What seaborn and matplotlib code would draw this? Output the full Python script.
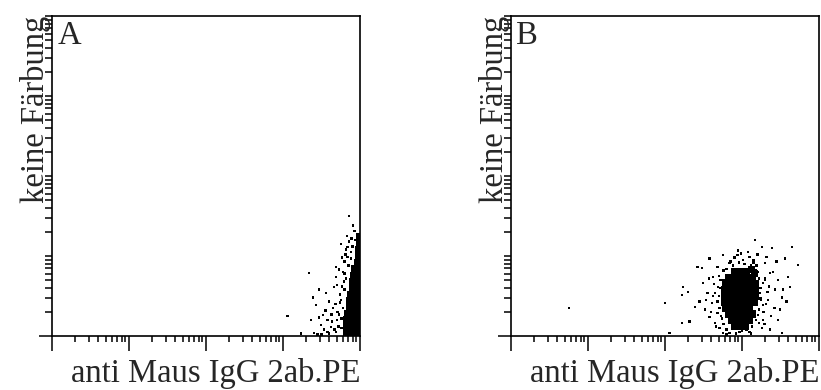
import numpy as np
import pandas as pd
import matplotlib
matplotlib.use("Agg")
import matplotlib.pyplot as plt
from matplotlib.ticker import FixedLocator, NullFormatter
import seaborn as sns

# ---- data (log10 decades) ----
# Panel A: scattered events
a_dot_x = [3.06, 3.34, 3.86, 3.75, 3.82, 3.84, 3.88, 3.69, 3.73, 3.47, 3.56, 3.43, 3.60, 3.65,
           3.52, 3.58, 3.47, 3.62, 3.53, 3.69, 3.39, 3.66, 3.77, 3.69, 3.80, 3.83, 3.91, 3.75,
           3.71, 3.79, 3.36, 3.49, 3.60, 3.40, 3.23, 3.74, 3.70, 3.78, 3.64, 3.72, 3.76, 3.55,
           3.68, 3.81, 3.86, 3.89, 3.93, 3.97,
           3.76, 3.78, 3.80, 3.82, 3.85, 3.88, 3.73, 3.70, 3.67, 3.74, 3.77, 3.84, 3.90, 3.94,
           3.80, 3.63, 3.58, 3.50, 3.45]
a_dot_y = [0.25, 0.79, 1.50, 1.15, 1.08, 1.11, 1.05, 0.86, 0.83, 0.58, 0.54, 0.39, 0.43, 0.35,
           0.26, 0.20, 0.23, 0.11, 0.08, 0.05, 0.48, 0.61, 0.98, 0.74, 0.93, 1.25, 1.38, 0.45,
           0.30, 0.68, 0.20, 0.14, 0.03, 0.04, 0.03, 0.52, 0.64, 0.80, 0.18, 0.12, 0.22, 0.32,
           0.40, 1.02, 1.18, 1.22, 1.31, 1.27,
           0.10, 0.35, 0.58, 0.72, 0.88, 0.97, 0.27, 0.20, 0.08, 0.42, 0.62, 0.99, 1.12, 1.20,
           0.78, 0.27, 0.05, 0.02, 0.02]
# Panel A: dense core
a_core_x = [3.83, 3.91, 3.98, 3.82, 3.89, 3.98, 3.83, 3.91, 3.98, 3.84, 3.91, 3.98,
            3.86, 3.92, 3.98, 3.87, 3.93, 3.98, 3.88, 3.96, 3.90, 3.97, 3.91, 3.97,
            3.92, 3.98, 3.93, 3.98, 3.97, 3.98, 3.98, 3.99, 3.99]
a_core_y = [0.05, 0.05, 0.05, 0.12, 0.12, 0.12, 0.20, 0.20, 0.20, 0.28, 0.28, 0.28,
            0.36, 0.36, 0.36, 0.44, 0.44, 0.44, 0.52, 0.52, 0.60, 0.60, 0.68, 0.68,
            0.76, 0.76, 0.84, 0.84, 0.92, 1.00, 1.08, 1.16, 1.24]

# Panel B: scattered events
b_dot_x = [0.75, 2.00, 2.06, 2.22, 2.32, 2.23, 2.30, 2.22, 2.42, 2.48, 2.58, 2.75, 2.95, 3.17,
           3.26, 3.39, 3.65, 3.73, 3.45, 3.56, 3.60, 3.62, 3.52, 3.49, 3.47, 3.36, 3.52, 3.27,
           3.34, 3.43, 3.36, 3.30, 3.10, 3.01, 2.84, 2.68, 2.62, 2.49, 2.55, 2.45, 2.39, 2.52,
           2.58, 2.65, 2.71, 2.75, 2.97, 3.10, 3.26, 3.21, 3.27, 3.23, 3.27, 3.21, 2.68, 2.65,
           2.69, 2.61, 2.68, 3.58, 3.53, 3.47, 3.32, 2.94, 3.08, 2.72, 2.74, 3.22, 3.24, 3.19,
           3.30, 2.70, 2.76, 3.15, 2.80, 3.28, 2.66, 3.35, 3.12, 2.85,
           2.70, 2.72, 2.74, 2.71, 2.73, 2.76, 2.80, 2.84, 2.92, 3.00, 3.06, 3.13, 3.18, 3.22,
           3.25, 3.24, 3.22, 3.18, 3.12, 3.03, 2.96, 2.88, 2.80, 2.76, 3.15, 2.99, 2.90, 3.20,
           3.30, 3.33, 3.31, 3.29, 2.62, 2.60, 2.64, 3.40, 3.42, 3.38, 2.57, 2.53]
b_dot_y = [0.35, 0.41, 0.04, 0.16, 0.18, 0.61, 0.55, 0.51, 0.86, 0.85, 0.97, 1.01, 1.07, 1.20,
           1.11, 1.10, 1.11, 0.89, 0.93, 0.97, 0.74, 0.61, 0.48, 0.33, 0.20, 0.08, 0.04, 0.20,
           0.45, 0.58, 0.79, 0.91, 0.99, 0.95, 0.91, 0.86, 0.74, 0.66, 0.54, 0.43, 0.36, 0.33,
           0.24, 0.16, 0.10, 0.04, 0.05, 0.05, 0.10, 0.26, 0.39, 0.54, 0.66, 0.80, 0.43, 0.54,
           0.61, 0.41, 0.29, 0.43, 0.58, 0.70, 0.99, 1.01, 1.05, 0.70, 0.22, 0.16, 0.47, 0.88,
           0.72, 0.50, 0.82, 0.92, 0.02, 0.30, 0.12, 0.62, 0.03, 0.93,
           0.75, 0.60, 0.48, 0.35, 0.25, 0.15, 0.08, 0.04, 0.03, 0.06, 0.08, 0.12, 0.20, 0.33,
           0.45, 0.60, 0.72, 0.82, 0.88, 0.90, 0.92, 0.88, 0.84, 0.70, 0.95, 1.03, 0.98, 1.02,
           0.70, 0.55, 0.40, 0.15, 0.50, 0.30, 0.65, 0.80, 0.35, 0.25, 0.72, 0.45]
# Panel B: dense core
b_core_x = [2.91, 2.99, 3.06, 3.12,
            2.82, 2.90, 2.97, 3.05, 3.13, 3.16,
            2.79, 2.87, 2.95, 3.03, 3.10, 3.18,
            2.78, 2.86, 2.94, 3.01, 3.09, 3.17,
            2.78, 2.86, 2.94, 3.01, 3.09, 3.17,
            2.78, 2.86, 2.94, 3.01, 3.09, 3.16,
            2.79, 2.87, 2.95, 3.03, 3.10,
            2.82, 2.90, 2.97, 3.05, 3.13,
            2.86, 2.94, 3.01, 3.09,
            2.90, 2.97, 3.05]
b_core_y = [0.80, 0.80, 0.80, 0.83,
            0.725, 0.725, 0.725, 0.725, 0.725, 0.78,
            0.65, 0.65, 0.65, 0.65, 0.65, 0.65,
            0.575, 0.575, 0.575, 0.575, 0.575, 0.575,
            0.50, 0.50, 0.50, 0.50, 0.50, 0.50,
            0.425, 0.425, 0.425, 0.425, 0.425, 0.425,
            0.35, 0.35, 0.35, 0.35, 0.35,
            0.275, 0.275, 0.275, 0.275, 0.275,
            0.20, 0.20, 0.20, 0.20,
            0.125, 0.125, 0.125]

panel_letters = ["A", "B"]
x_label = "anti Maus IgG 2ab.PE"
y_label = "keine Färbung"


def make_frame(dx, dy, cx, cy):
    return pd.DataFrame({
        "x": 10 ** np.concatenate([np.array(dx, float), np.array(cx, float)]),
        "y": 10 ** np.concatenate([np.array(dy, float), np.array(cy, float)]),
        "kind": ["dot"] * len(dx) + ["core"] * len(cx),
    })


frames = [make_frame(a_dot_x, a_dot_y, a_core_x, a_core_y),
          make_frame(b_dot_x, b_dot_y, b_core_x, b_core_y)]

sns.set_style("white")
plt.rcParams["font.family"] = ["Liberation Serif", "DejaVu Serif"]

fig = plt.figure(figsize=(8.21, 3.90), dpi=100)
H = 390.0
W = 821.0
lefts = [52, 511]
for i, (left, df) in enumerate(zip(lefts, frames)):
    ax = fig.add_axes([left / W, (H - 336) / H, 308 / W, 320 / H])
    sns.scatterplot(data=df, x="x", y="y", size="kind", sizes={"dot": 3.0, "core": 27.0},
                    marker="s", color="black", linewidth=0, legend=False, ax=ax)
    ax.set_xscale("log")
    ax.set_yscale("log")
    ax.set_xlim(1, 10000)
    ax.set_ylim(1, 10000)
    for s in ax.spines.values():
        s.set_visible(True)
        s.set_color("black")
        s.set_linewidth(1.2)
    decades = [1, 10, 100, 1000, 10000]
    minors = [k * d for d in [1, 10, 100, 1000] for k in range(2, 10)]
    ax.xaxis.set_major_locator(FixedLocator(decades))
    ax.xaxis.set_minor_locator(FixedLocator(minors))
    ax.yaxis.set_major_locator(FixedLocator([1]))
    ax.yaxis.set_minor_locator(FixedLocator(minors + decades[1:]))
    for axis in (ax.xaxis, ax.yaxis):
        axis.set_major_formatter(NullFormatter())
        axis.set_minor_formatter(NullFormatter())
    ax.tick_params(axis="x", which="major", direction="out", length=10.5, width=1.1,
                   color="black", bottom=True, top=False)
    ax.tick_params(axis="x", which="minor", direction="out", length=4.0, width=1.1,
                   color="black", bottom=True, top=False)
    ax.tick_params(axis="y", which="major", direction="out", length=9.5, width=1.1,
                   color="black", left=True, right=False)
    ax.tick_params(axis="y", which="minor", direction="out", length=5.0, width=1.1,
                   color="black", left=True, right=False)
    ax.set_xlabel(x_label, fontsize=23.5, loc="right", labelpad=2)
    ax.set_ylabel(y_label, fontsize=23.5, loc="top")
    ax.yaxis.set_label_coords(-0.003, 1.0)
    ax.text(0.017, 0.985, panel_letters[i], transform=ax.transAxes, fontsize=23.5,
            ha="left", va="top")

fig.savefig("out.png", dpi=100)
